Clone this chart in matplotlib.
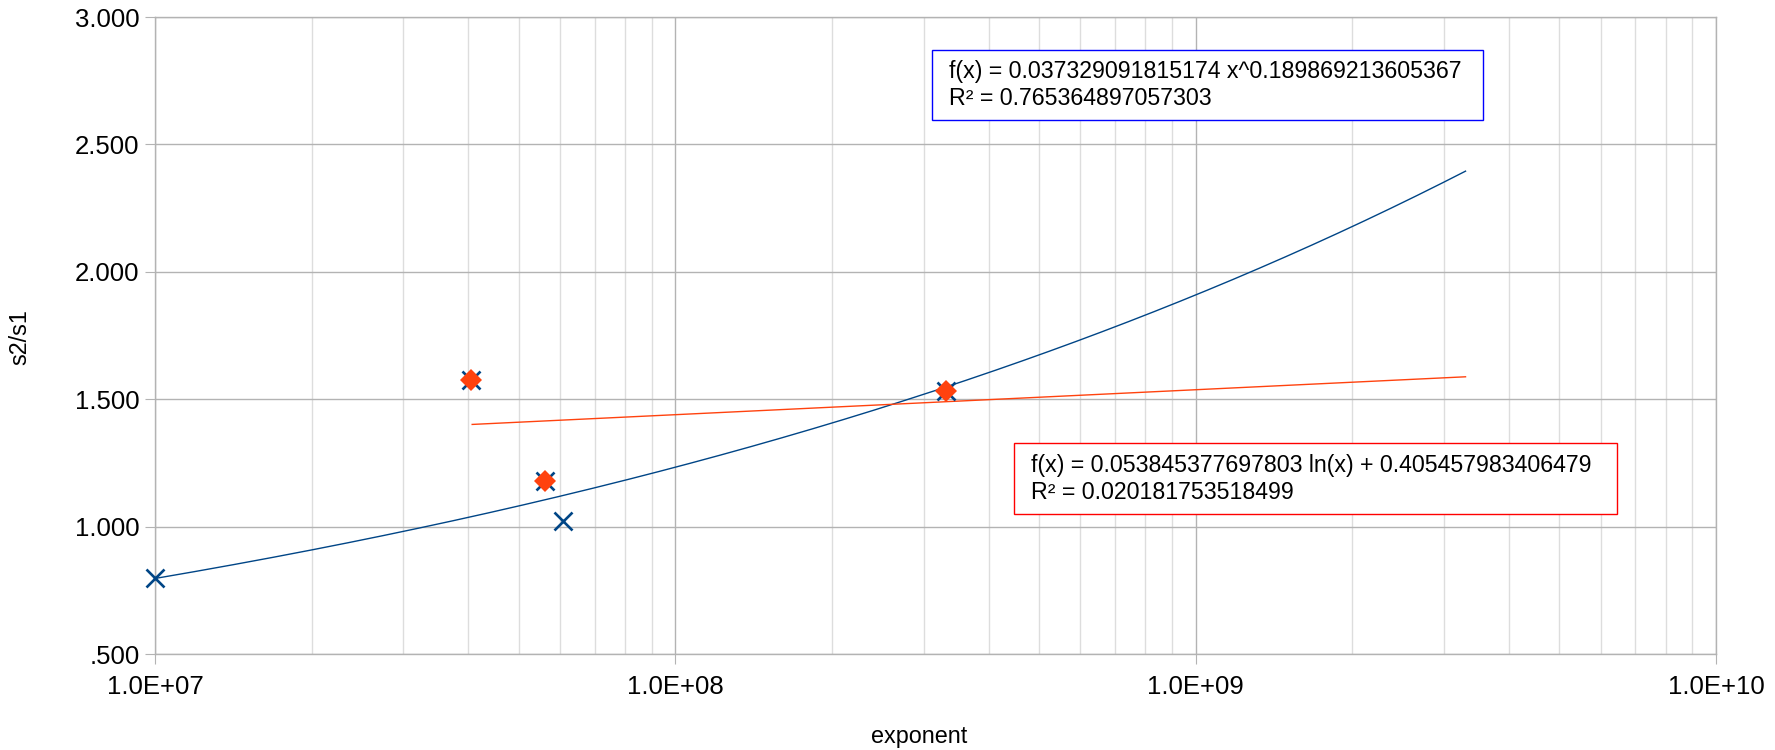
import matplotlib
matplotlib.use("Agg")
import matplotlib.pyplot as plt
import numpy as np
from matplotlib.ticker import FixedLocator, LogLocator, NullFormatter
from matplotlib.patches import Rectangle

plt.rcParams['font.family'] = ['Liberation Sans', 'DejaVu Sans']

# Data
x_blue = [1.0e7, 6.08e7, 4.04e7, 5.61e7, 3.31e8]
y_blue = [0.798, 1.022, 1.575, 1.179, 1.534]
x_orange = [4.04e7, 5.61e7, 3.31e8]
y_orange = [1.575, 1.179, 1.534]

# Trend line definitions
pow_a, pow_b = 0.037329091815174, 0.189869213605367
pow_range = [1.0e7, 3.3e9]
log_line_x = [4.07e7, 3.3e9]
log_line_y = [1.401, 1.588]

pow_label = "f(x) = 0.037329091815174 x^0.189869213605367\nR² = 0.765364897057303"
log_label = "f(x) = 0.053845377697803 ln(x) + 0.405457983406479\nR² = 0.020181753518499"

y_ticks = [0.5, 1.0, 1.5, 2.0, 2.5, 3.0]
y_tick_labels = [".500", "1.000", "1.500", "2.000", "2.500", "3.000"]
x_ticks = [1e7, 1e8, 1e9, 1e10]
x_tick_labels = ["1.0E+07", "1.0E+08", "1.0E+09", "1.0E+10"]

BLUE = "#004586"
ORANGE = "#ff420e"

fig = plt.figure(figsize=(17.75, 7.5), dpi=100)
ax = fig.add_axes([0.0873, 0.128, 0.8795, 0.8493])
ax.set_xscale('log')
ax.set_xlim(1e7, 1e10)
ax.set_ylim(0.5, 3.0)

ax.xaxis.set_major_locator(FixedLocator(x_ticks))
ax.xaxis.set_minor_locator(LogLocator(base=10, subs=np.arange(2, 10)))
ax.xaxis.set_minor_formatter(NullFormatter())
ax.set_xticks(x_ticks)
ax.set_xticklabels(x_tick_labels)
ax.set_yticks(y_ticks)
ax.set_yticklabels(y_tick_labels)

ax.grid(which='major', color='#b3b3b3', linewidth=1.0)
ax.grid(which='minor', axis='x', color='#dddddd', linewidth=1.0)
ax.set_axisbelow(True)
for s in ax.spines.values():
    s.set_color('#b3b3b3')
    s.set_linewidth(1.0)
ax.tick_params(axis='both', which='major', length=7, color='#b3b3b3', labelsize=18.5, pad=4)
ax.tick_params(axis='x', which='minor', length=0)
ax.tick_params(axis='x', which='major', pad=8)

# Power trend line
xp = np.logspace(np.log10(pow_range[0]), np.log10(pow_range[1]), 300)
ax.plot(xp, pow_a * xp ** pow_b, color=BLUE, linewidth=1.0, zorder=3)
# Log trend line
ax.plot(log_line_x, log_line_y, color=ORANGE, linewidth=1.0, zorder=3)

ax.plot(x_blue, y_blue, linestyle='none', marker='x', markersize=13, markeredgewidth=1.9,
        color=BLUE, zorder=4, clip_on=False)
ax.plot(x_orange, y_orange, linestyle='none', marker='D', markersize=11, color=ORANGE,
        markeredgewidth=0, zorder=5, clip_on=False)

fig.text(919/1775, 1-737/750, "exponent", fontsize=16.8, ha='center', va='center')
fig.text(20/1775, 1-337/750, "s2/s1", fontsize=16.8, ha='center', va='center', rotation=90)

fig.patches.append(Rectangle((932/1775, 1-120/750), (1483-932)/1775, 70/750,
                             transform=fig.transFigure, facecolor='white', edgecolor='#0000ff',
                             linewidth=1.0, zorder=1))
fig.patches.append(Rectangle((1014/1775, 1-514/750), (1617-1014)/1775, 71/750,
                             transform=fig.transFigure, facecolor='white', edgecolor='#ff0000',
                             linewidth=1.0, zorder=1))
fig.text(949/1775, 1-85/750, pow_label, fontsize=16.7, va='center', ha='left', linespacing=1.17, zorder=6)
fig.text(1031/1775, 1-479/750, log_label, fontsize=16.7, va='center', ha='left', linespacing=1.17, zorder=6)

fig.savefig("out.png", dpi=100)
